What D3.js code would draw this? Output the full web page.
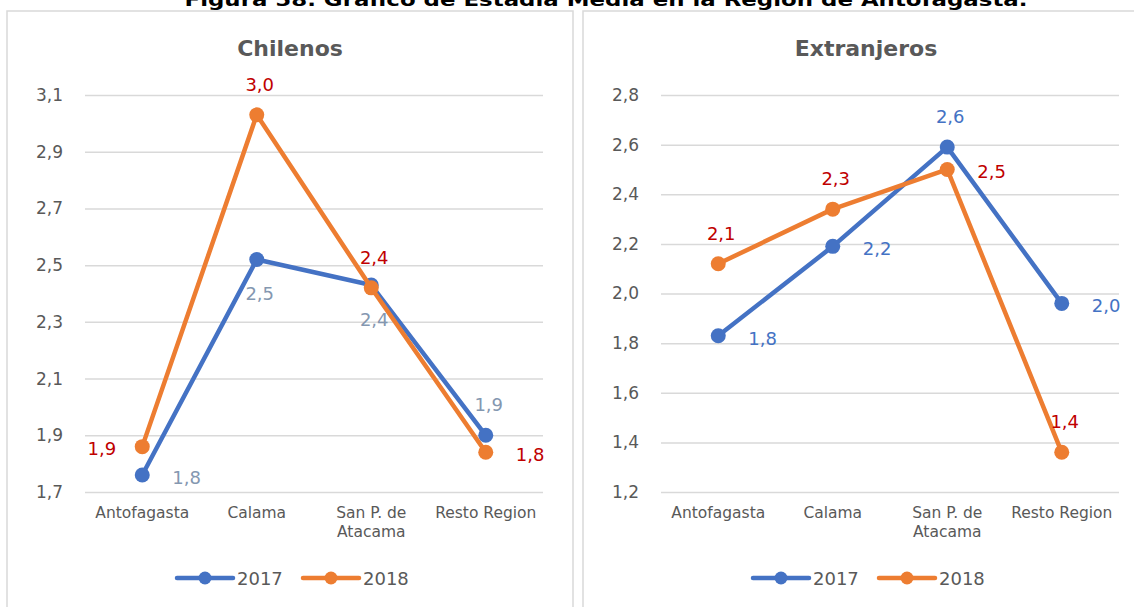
<!DOCTYPE html>
<html>
<head>
<meta charset="utf-8">
<script src="https://cdn.jsdelivr.net/npm/d3@7"></script>
<style>
  html, body { margin: 0; padding: 0; background: #ffffff; }
  svg { display: block; }
  text { font-family: "DejaVu Sans", sans-serif; }
</style>
</head>
<body>
<svg id="chart" width="1134" height="607"></svg>
<script>
// Estadía media por zona y año
const categories = ["Antofagasta", "Calama", "San P. de\nAtacama", "Resto Region"];
const years = ["2017", "2018"];

const chilenos2017 = [1.76, 2.52, 2.43, 1.90];
const chilenos2018 = [1.86, 3.03, 2.42, 1.84];
const extranjeros2017 = [1.83, 2.19, 2.59, 1.96];
const extranjeros2018 = [2.12, 2.34, 2.50, 1.36];

const chilenosTicks = [1.7, 1.9, 2.1, 2.3, 2.5, 2.7, 2.9, 3.1];
const extranjerosTicks = [1.2, 1.4, 1.6, 1.8, 2.0, 2.2, 2.4, 2.6, 2.8];

// where each value label sits relative to its point
const chilenosPos2017 = ["right", "below", "below", "above"];
const chilenosPos2018 = ["left", "above", "above", "right"];
const extranjerosPos2017 = ["right", "right", "above", "right"];
const extranjerosPos2018 = ["above", "above", "right", "above"];

const figureTitle = "Figura 58. Gráfico de Estadía Media en la Región de Antofagasta.";

const seriesColors = ["#4472C4", "#ED7D31"];
const textGray = "#595959";
const gridGray = "#D9D9D9";

const locale = d3.formatLocale({ decimal: ",", thousands: ".", grouping: [3], currency: ["$", ""] });
const fmt1 = locale.format(".1f");

const panels = [
  {
    title: "Chilenos", x: 7, ticks: chilenosTicks,
    series: [chilenos2017, chilenos2018],
    positions: [chilenosPos2017, chilenosPos2018],
    labelColors: ["#8497B0", "#C00000"]
  },
  {
    title: "Extranjeros", x: 583, ticks: extranjerosTicks,
    series: [extranjeros2017, extranjeros2018],
    positions: [extranjerosPos2017, extranjerosPos2018],
    labelColors: ["#4472C4", "#C00000"]
  }
];

const svg = d3.select("#chart");

// figure caption along the top edge
svg.append("text")
  .attr("x", 606).attr("y", 6)
  .attr("text-anchor", "middle")
  .attr("font-weight", "bold")
  .attr("font-size", 18)
  .attr("textLength", 843)
  .attr("lengthAdjust", "spacingAndGlyphs")
  .attr("fill", "#000")
  .text(figureTitle);

const panelW = 566, panelTop = 11;
const plotLeft = 78, plotW = 458;
const plotTop = 95, plotBottom = 492;

panels.forEach(p => {
  const g = svg.append("g");

  g.append("rect")
    .attr("x", p.x).attr("y", panelTop)
    .attr("width", panelW).attr("height", 640)
    .attr("fill", "#fff")
    .attr("stroke", gridGray).attr("stroke-width", 1.5);

  g.append("text")
    .attr("x", p.x + panelW / 2).attr("y", 56)
    .attr("text-anchor", "middle")
    .attr("font-weight", "bold")
    .attr("font-size", 22)
    .attr("fill", textGray)
    .text(p.title);

  const x0 = p.x + plotLeft, x1 = x0 + plotW;
  const x = d3.scaleBand().domain(categories).range([x0, x1]);
  const cx = c => x(c) + x.bandwidth() / 2;
  const y = d3.scaleLinear()
    .domain([p.ticks[0], p.ticks[p.ticks.length - 1]])
    .range([plotBottom, plotTop]);

  // value axis with gridlines
  const yAxis = g.append("g")
    .attr("transform", `translate(${x0},0)`)
    .call(d3.axisLeft(y).tickValues(p.ticks).tickFormat(fmt1)
      .tickSize(-plotW).tickPadding(22));
  yAxis.select(".domain").remove();
  yAxis.selectAll(".tick line")
    .attr("stroke", gridGray).attr("stroke-width", 1.5);
  yAxis.selectAll(".tick text")
    .attr("font-family", "DejaVu Sans, sans-serif")
    .attr("font-size", 17)
    .attr("fill", textGray);

  // category axis
  const xAxis = g.append("g")
    .attr("transform", `translate(0,${plotBottom})`)
    .call(d3.axisBottom(x).tickSize(0).tickPadding(0));
  xAxis.select(".domain").remove();
  xAxis.selectAll(".tick text")
    .attr("font-family", "DejaVu Sans, sans-serif")
    .attr("font-size", 15.5)
    .attr("fill", textGray)
    .attr("y", 26).attr("dy", 0)
    .each(function (d) {
      const t = d3.select(this).text(null);
      d.split("\n").forEach((line, i) => {
        t.append("tspan").attr("x", 0).attr("dy", i === 0 ? 0 : 19).text(line);
      });
    });

  const line = d3.line()
    .x((d, i) => cx(categories[i]))
    .y(d => y(d));

  p.series.forEach((vals, si) => {
    const s = g.append("g");
    s.append("path")
      .datum(vals)
      .attr("d", line)
      .attr("fill", "none")
      .attr("stroke", seriesColors[si])
      .attr("stroke-width", 4.5)
      .attr("stroke-linejoin", "round");
    s.selectAll("circle")
      .data(vals)
      .join("circle")
      .attr("cx", (d, i) => cx(categories[i]))
      .attr("cy", d => y(d))
      .attr("r", 7.5)
      .attr("fill", seriesColors[si]);
  });

  // value labels
  p.series.forEach((vals, si) => {
    g.append("g").selectAll("text")
      .data(vals)
      .join("text")
      .each(function (d, i) {
        const pos = p.positions[si][i];
        const px = cx(categories[i]), py = y(d);
        const t = d3.select(this)
          .attr("font-size", 18)
          .attr("fill", p.labelColors[si])
          .text(fmt1(d));
        if (pos === "above") {
          t.attr("x", px + 3).attr("y", py - 24).attr("text-anchor", "middle");
        } else if (pos === "below") {
          t.attr("x", px + 3).attr("y", py + 41).attr("text-anchor", "middle");
        } else if (pos === "right") {
          t.attr("x", px + 30).attr("y", py + 9).attr("text-anchor", "start");
        } else {
          t.attr("x", px - 26).attr("y", py + 8).attr("text-anchor", "end");
        }
      });
  });

  // legend
  const legY = 578;
  let lx = p.x + 170;
  years.forEach((yr, si) => {
    const item = g.append("g").attr("transform", `translate(${lx},${legY})`);
    item.append("line")
      .attr("x1", 0).attr("x2", 56)
      .attr("stroke", seriesColors[si])
      .attr("stroke-width", 4.5)
      .attr("stroke-linecap", "round");
    item.append("circle")
      .attr("cx", 28).attr("r", 6.5)
      .attr("fill", seriesColors[si]);
    item.append("text")
      .attr("x", 60).attr("y", 7)
      .attr("font-size", 18)
      .attr("fill", textGray)
      .text(yr);
    lx += 126;
  });
});
</script>
</body>
</html>
